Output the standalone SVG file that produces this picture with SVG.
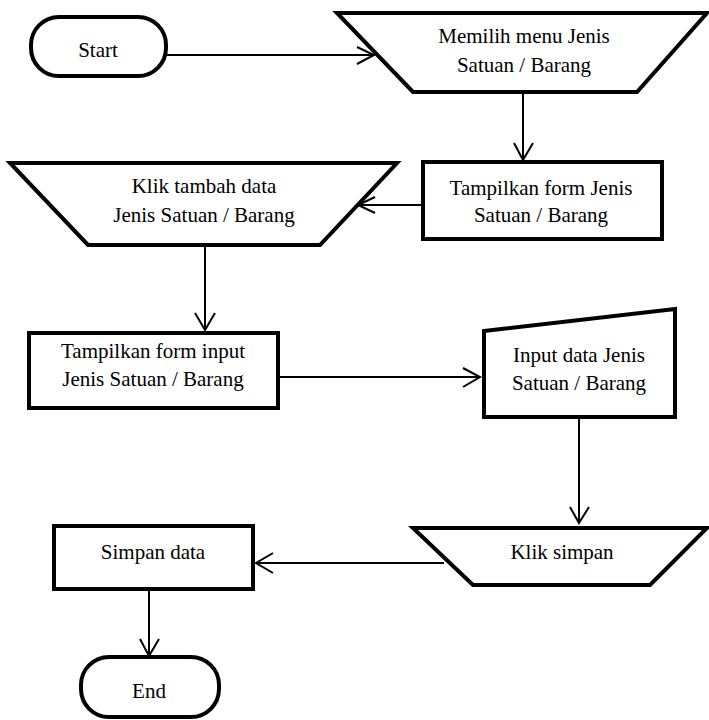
<svg xmlns="http://www.w3.org/2000/svg" width="709" height="720" viewBox="0 0 709 720">
<style>
.shape{fill:#fff;stroke:#000;stroke-width:4;stroke-linejoin:miter}
.conn{fill:none;stroke:#000;stroke-width:2}
.head{fill:none;stroke:#000;stroke-width:2}
text{font-family:'Liberation Serif',Tinos,'Times New Roman','DejaVu Serif',serif;font-size:21px;fill:#000;text-anchor:middle}
</style>
<rect width="709" height="720" fill="#fff"/>
<g id="connectors">
<line class="conn" x1="166" y1="55" x2="373" y2="55"/>
<polyline class="head" points="357,47 374,55 357,64"/>
<line class="conn" x1="523" y1="92" x2="523" y2="160"/>
<polyline class="head" points="514,143 523,160 533,143"/>
<line class="conn" x1="423" y1="205" x2="359" y2="205"/>
<polyline class="head" points="375,197 358,205 375,213"/>
<line class="conn" x1="205" y1="245" x2="205" y2="330"/>
<polyline class="head" points="195,313 205,330 215,313"/>
<line class="conn" x1="278" y1="377" x2="479" y2="377"/>
<polyline class="head" points="463,368 480,377 463,387"/>
<line class="conn" x1="579" y1="417" x2="579" y2="522"/>
<polyline class="head" points="570,507 579,523 589,507"/>
<line class="conn" x1="444" y1="563" x2="257" y2="563"/>
<polyline class="head" points="273,553 256,563 273,573"/>
<line class="conn" x1="149" y1="589" x2="149" y2="655"/>
<polyline class="head" points="140,639 149,656 159,639"/>
</g>
<g id="start">
<rect class="shape" x="31" y="17" width="135" height="59" rx="28" ry="28"/>
<text x="98" y="57" font-family="Liberation Serif, serif">Start</text>
</g>
<g id="memilih">
<polygon class="shape" points="337,13 707,13 637,92 413,92"/>
<text x="524" y="43">Memilih menu Jenis</text>
<text x="524" y="72">Satuan / Barang</text>
</g>
<g id="tampilkan-form">
<rect class="shape" x="423" y="162" width="239" height="77"/>
<text x="541" y="195">Tampilkan form Jenis</text>
<text x="541" y="222">Satuan / Barang</text>
</g>
<g id="klik-tambah">
<polygon class="shape" points="10,163 397,163 320,245 88,245"/>
<text x="204" y="193">Klik tambah data</text>
<text x="204" y="222">Jenis Satuan / Barang</text>
</g>
<g id="tampilkan-input">
<rect class="shape" x="29" y="333" width="249" height="75"/>
<text x="153" y="358">Tampilkan form input</text>
<text x="153" y="386">Jenis Satuan / Barang</text>
</g>
<g id="input-data">
<polygon class="shape" points="484,331 675,309 675,417 484,417"/>
<text x="579" y="362">Input data Jenis</text>
<text x="579" y="390">Satuan / Barang</text>
</g>
<g id="klik-simpan">
<polygon class="shape" points="413,528 707,528 650,585 473,585"/>
<text x="562" y="559">Klik simpan</text>
</g>
<g id="simpan-data">
<rect class="shape" x="54" y="526" width="199" height="63"/>
<text x="153" y="559">Simpan data</text>
</g>
<g id="end">
<rect class="shape" x="81" y="657" width="138" height="60" rx="28" ry="28"/>
<text x="149" y="698">End</text>
</g>
</svg>
